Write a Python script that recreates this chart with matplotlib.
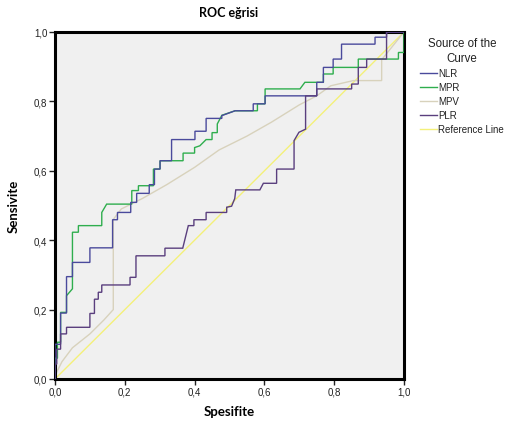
import matplotlib
matplotlib.use("Agg")
import matplotlib.pyplot as plt

# ---- data (fpr = 1 - specificity, tpr = sensitivity), step vertices
nlr_x = [0, 0, 0.016, 0.016, 0.033, 0.033, 0.05, 0.05, 0.10, 0.10, 0.165, 0.165, 0.179, 0.179,
         0.217, 0.217, 0.234, 0.234, 0.27, 0.27, 0.285, 0.285, 0.301, 0.301, 0.334, 0.334,
         0.401, 0.401, 0.433, 0.433, 0.478, 0.478, 0.516, 0.568, 0.568, 0.602, 0.602, 0.75,
         0.75, 0.769, 0.769, 0.797, 0.797, 0.821, 0.821, 0.917, 0.917, 0.95, 0.95, 1.0]
nlr_y = [0, 0.10, 0.10, 0.19, 0.19, 0.295, 0.295, 0.336, 0.336, 0.378, 0.378, 0.459, 0.459, 0.48,
         0.48, 0.509, 0.509, 0.535, 0.535, 0.56, 0.56, 0.605, 0.605, 0.629, 0.629, 0.69,
         0.69, 0.714, 0.714, 0.751, 0.751, 0.759, 0.773, 0.773, 0.793, 0.793, 0.816, 0.816,
         0.855, 0.855, 0.898, 0.898, 0.922, 0.922, 0.965, 0.965, 0.985, 0.985, 1.0, 1.0]

mpr_x = [0, 0, 0.007, 0.007, 0.016, 0.016, 0.033, 0.033, 0.05, 0.05, 0.067, 0.067, 0.134, 0.134,
         0.148, 0.22, 0.22, 0.239, 0.239, 0.282, 0.282, 0.301, 0.301, 0.367, 0.367, 0.40, 0.40,
         0.415, 0.433, 0.45, 0.45, 0.465, 0.465, 0.478, 0.516, 0.58, 0.58, 0.602, 0.602, 0.702,
         0.716, 0.769, 0.769, 0.797, 0.797, 0.869, 0.869, 0.984, 0.984, 1.0, 1.0]
mpr_y = [0, 0.06, 0.06, 0.106, 0.106, 0.192, 0.192, 0.24, 0.26, 0.423, 0.423, 0.442, 0.442, 0.48,
         0.504, 0.504, 0.543, 0.543, 0.557, 0.557, 0.605, 0.605, 0.629, 0.629, 0.651, 0.651, 0.667,
         0.672, 0.69, 0.69, 0.71, 0.71, 0.735, 0.76, 0.773, 0.773, 0.793, 0.793, 0.836, 0.836,
         0.855, 0.855, 0.879, 0.879, 0.898, 0.898, 0.922, 0.922, 0.941, 0.941, 1.0]

mpv_x = [0, 0.005, 0.02, 0.05, 0.10, 0.14, 0.167, 0.167, 0.19, 0.25, 0.32, 0.40, 0.47, 0.55,
         0.62, 0.70, 0.75, 0.79, 0.855, 0.936, 0.936, 0.96, 1.0]
mpv_y = [0, 0.02, 0.05, 0.09, 0.13, 0.17, 0.20, 0.46, 0.49, 0.52, 0.56, 0.61, 0.66, 0.70,
         0.74, 0.79, 0.816, 0.845, 0.86, 0.86, 0.92, 0.95, 1.0]

plr_x = [0, 0, 0.005, 0.005, 0.016, 0.016, 0.033, 0.033, 0.10, 0.10, 0.113, 0.113, 0.124, 0.124,
         0.134, 0.134, 0.215, 0.215, 0.232, 0.232, 0.315, 0.315, 0.366, 0.382, 0.398, 0.398,
         0.433, 0.433, 0.492, 0.492, 0.506, 0.515, 0.518, 0.587, 0.597, 0.635, 0.635, 0.685,
         0.685, 0.699, 0.718, 0.718, 0.75, 0.75, 0.85, 0.85, 0.869, 0.869, 0.893, 0.893, 0.95,
         0.95, 1.0]
plr_y = [0, 0.043, 0.043, 0.086, 0.086, 0.13, 0.13, 0.149, 0.149, 0.189, 0.189, 0.23, 0.23, 0.25,
         0.25, 0.271, 0.271, 0.293, 0.293, 0.355, 0.355, 0.377, 0.377, 0.442, 0.442, 0.459,
         0.459, 0.48, 0.48, 0.495, 0.498, 0.52, 0.545, 0.545, 0.564, 0.564, 0.605, 0.605,
         0.687, 0.711, 0.72, 0.816, 0.816, 0.836, 0.836, 0.85, 0.85, 0.898, 0.898, 0.922, 0.922,
         1.0, 1.0]

ref_x = [0, 1]
ref_y = [0, 1]

tick_vals = [0.0, 0.2, 0.4, 0.6, 0.8, 1.0]
tick_labels = ["0,0", "0,2", "0,4", "0,6", "0,8", "1,0"]

series = ["NLR", "MPR", "MPV", "PLR", "Reference Line"]
colors = ["#4a4a9c", "#2fae4e", "#d8d2bc", "#5a3f7e", "#f4f07a"]

# ---- figure
fig = plt.figure(figsize=(5.05, 4.27), dpi=100)
ax = fig.add_axes([55 / 505, 47 / 427, 349 / 505, 347 / 427])
ax.set_facecolor("#f0f0f0")

data = [(nlr_x, nlr_y), (mpr_x, mpr_y), (mpv_x, mpv_y), (plr_x, plr_y), (ref_x, ref_y)]
zorders = [4, 3, 2, 5, 1]
for (xs, ys), name, c, z in zip(data, series, colors, zorders):
    ax.plot(xs, ys, color=c, lw=1.0, label=name, zorder=z, solid_joinstyle="miter")

ax.set_xlim(0, 1)
ax.set_ylim(0, 1)
ax.set_xticks(tick_vals)
ax.set_xticklabels(tick_labels)
ax.set_yticks(tick_vals)
ax.set_yticklabels(tick_labels)
ax.tick_params(direction="out", length=4, width=1, labelsize=7, pad=1.5, colors="#222222")
for lab in ax.get_xticklabels() + ax.get_yticklabels():
    lab.set_fontfamily("Liberation Sans")
for sp in ax.spines.values():
    sp.set_linewidth(2.2)
    sp.set_color("black")

ax.set_xlabel("Spesifite", fontsize=9.5, fontweight="bold", family="Lato", labelpad=6)
ax.set_ylabel("Sensivite", fontsize=9.5, fontweight="bold", family="Lato", labelpad=10)
fig.text(0.452, 1 - 13 / 427, "ROC eğrisi", ha="center", va="center",
         fontsize=9, fontweight="bold", family="Lato")

# legend title drawn separately (centered), entries left-aligned
fig.text(462 / 505, 1 - 51.5 / 427, "Source of the\nCurve", ha="center", va="center",
         multialignment="center", fontsize=8.3, family="Liberation Sans",
         linespacing=1.3, color="#222222")
leg = ax.legend(loc="upper left", bbox_to_anchor=((420 - 55) / 349, (380 - 69) / 347),
                frameon=False, handlelength=1.7, handletextpad=0.15, labelspacing=0.42,
                borderaxespad=0, borderpad=0,
                prop={"family": "Liberation Sans", "size": 7})
for t in leg.get_texts():
    t.set_color("#222222")

fig.savefig("out.png", dpi=100)
